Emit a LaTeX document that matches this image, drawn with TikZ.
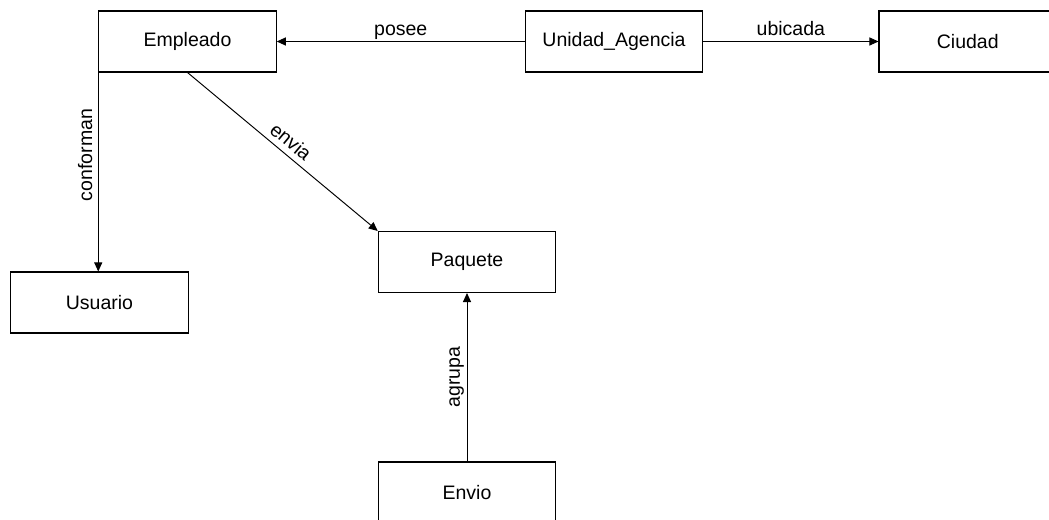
\documentclass[tikz,border=0pt]{standalone}
\usepackage{fontspec}
\setmainfont{Liberation Sans}
\usetikzlibrary{arrows.meta}

\begin{document}
\begin{tikzpicture}[x=0.02cm, y=-0.02cm,
    entidad/.style={draw, line width=0.6pt, minimum width=3.55cm, minimum height=1.22cm, inner sep=0pt, font=\fontsize{11.1}{13}\selectfont},
    rel/.style={-{Triangle[length=0.18cm, width=0.16cm]}, line width=0.55pt},
    etiq/.style={font=\fontsize{11.1}{13}\selectfont, text depth=0.08cm, inner sep=0.6pt}]
    \clip (0,0) rectangle (1049,520);

    \node[entidad] (empleado) at (187.5, 41.5) {Empleado};
    \node[entidad] (unidad) at (614, 41.5) {Unidad\_Agencia};
    \node[entidad] (ciudad) at (967.75, 41.5) {Ciudad};
    \node[entidad] (usuario) at (99.5, 302.5) {Usuario};
    \node[entidad] (paquete) at (467, 262) {Paquete};
    \node[entidad] (envio) at (467, 492.5) {Envio};

    \draw[rel] (unidad) -- node[etiq, above] {posee} (empleado);
    \draw[rel] (unidad) -- node[etiq, above] {ubicada} (ciudad);
    \draw[rel] (empleado.south west) -- node[etiq, pos=0.415, rotate=90, anchor=south, inner sep=1pt] {conforman} (empleado.south west |- usuario.north);
    \draw[rel] (empleado.south) -- node[etiq, sloped, above, inner sep=1pt] {envia} (paquete.north west);
    \draw[rel] (envio) -- node[etiq, sloped, above, inner sep=1.5pt] {agrupa} (paquete);
\end{tikzpicture}
\end{document}
